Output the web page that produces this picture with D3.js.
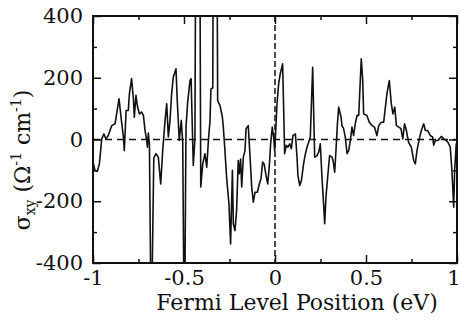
<!DOCTYPE html>
<html>
<head>
<meta charset="utf-8">
<script src="https://cdn.jsdelivr.net/npm/d3@7"></script>
<style>
  html, body { margin: 0; padding: 0; background: #fff; }
  svg { display: block; }
  svg text { font-family: "DejaVu Serif", "Liberation Serif", serif !important; fill: #111; }
</style>
</head>
<body>
<div id="chart"></div>
<script>
// ---- data ----
const energy = [
  -1.000, -0.989, -0.976, -0.965, -0.952, -0.940, -0.929, -0.916, -0.897, -0.879,
  -0.870, -0.857, -0.846, -0.833, -0.828, -0.818, -0.806, -0.800, -0.788, -0.778,
  -0.773, -0.764, -0.755, -0.745, -0.733, -0.723, -0.714, -0.705, -0.701, -0.696,
  -0.690, -0.680, -0.666, -0.654, -0.641, -0.628, -0.617, -0.604, -0.595, -0.586,
  -0.577, -0.568, -0.559, -0.544, -0.537, -0.526, -0.515, -0.507, -0.498, -0.489,
  -0.480, -0.467, -0.461, -0.449, -0.440, -0.430, -0.418, -0.408, -0.397, -0.385,
  -0.375, -0.366, -0.357, -0.352, -0.342, -0.334, -0.325, -0.315, -0.302, -0.289,
  -0.284, -0.275, -0.266, -0.253, -0.244, -0.234, -0.229, -0.220, -0.211, -0.202,
  -0.196, -0.189, -0.183, -0.174, -0.165, -0.159, -0.147, -0.137, -0.128, -0.119,
  -0.110, -0.097, -0.086, -0.077, -0.068, -0.060, -0.049, -0.040, -0.031, -0.024,
  -0.015, -0.007, -0.002, 0.004, 0.011, 0.020, 0.029, 0.042, 0.053, 0.062,
  0.071, 0.081, 0.090, 0.099, 0.112, 0.121, 0.126, 0.136, 0.145, 0.157,
  0.167, 0.176, 0.185, 0.194, 0.207, 0.218, 0.231, 0.240, 0.249, 0.258,
  0.267, 0.273, 0.280, 0.291, 0.300, 0.313, 0.319, 0.328, 0.335, 0.343,
  0.350, 0.363, 0.368, 0.377, 0.386, 0.396, 0.405, 0.414, 0.423, 0.432,
  0.441, 0.451, 0.460, 0.474, 0.482, 0.487, 0.505, 0.518, 0.533, 0.547,
  0.560, 0.570, 0.584, 0.597, 0.615, 0.628, 0.639, 0.648, 0.658, 0.667,
  0.680, 0.692, 0.702, 0.712, 0.722, 0.734, 0.749, 0.762, 0.771, 0.780,
  0.793, 0.804, 0.817, 0.826, 0.839, 0.853, 0.866, 0.872, 0.881, 0.896,
  0.903, 0.914, 0.927, 0.940, 0.950, 0.963, 0.972, 0.982, 0.987, 0.996,
  1.000
];
const sigmaXY = [
  -73, -100, -103, -79, 2, 18, 2, 13, 45, 51,
  83, 132, 72, 8, -36, 94, 94, 148, 197, 132,
  72, 143, 105, 83, 89, 78, 29, -3, -25, 21,
  -14, -650, -60, -46, -57, -144, -36, 62, 116, 8,
  62, 148, 202, 229, 126, -3, 62, -9, -700, 40,
  120, 191, 197, -84, 2, 1500, 1500, -154, -79, -46,
  -90, -3, 62, 164, 167, 1500, 1500, 126, 110, 72,
  40, -36, -122, -208, -338, -100, -273, -295, -230, -68,
  -111, -63, -154, -57, -36, 35, 45, -57, -154, -203,
  -171, -171, -144, -127, -73, -79, -117, -144, -84, -14,
  40, 5, -36, 30, 116, 180, 213, 245, -46, -19,
  -25, -14, -30, 13, 18, -57, -117, -149, -133, -79,
  -46, -25, -9, 8, 234, -57, -52, -41, -14, -122,
  -208, -273, -187, -111, -52, -57, -68, -106, -36, 51,
  105, 72, 45, 35, 8, -46, -36, -3, 40, 13,
  51, 78, 78, 261, 191, 83, 78, 56, 45, 40,
  13, 45, 56, 56, 148, 191, 116, 83, 105, 45,
  40, 35, 2, 51, 29, -9, -25, -68, -79, -36,
  2, 29, 51, 29, 29, 13, 8, -19, -3, -3,
  2, 10, 2, -3, -9, -25, -100, -219, -100, -14,
  -80
];
const xTicks = [-1, -0.5, 0, 0.5, 1];
const xMinorTicks = [-0.75, -0.25, 0.25, 0.75];
const yTicks = [-400, -200, 0, 200, 400];
const yMinorTicks = [-300, -100, 100, 300];
const xTitle = "Fermi Level Position (eV)";

// ---- layout ----
const W = 461, H = 324;
const m = { left: 93, right: 4, top: 16, bottom: 61 };
const iw = W - m.left - m.right, ih = H - m.top - m.bottom;
const FONT = "DejaVu Serif, Liberation Serif, serif";

const svg = d3.select("#chart").append("svg").attr("width", W).attr("height", H)
  .attr("font-family", FONT);
const g = svg.append("g").attr("transform", `translate(${m.left},${m.top})`);

const x = d3.scaleLinear().domain([-1, 1]).range([0, iw]);
const y = d3.scaleLinear().domain([-400, 400]).range([ih, 0]);

svg.append("defs").append("clipPath").attr("id", "clip")
  .append("rect").attr("x", 0).attr("y", 0).attr("width", iw).attr("height", ih);

// dashed reference lines
g.append("line").attr("x1", 0).attr("x2", iw).attr("y1", y(0)).attr("y2", y(0))
  .attr("stroke", "#111").attr("stroke-width", 1.5).attr("stroke-dasharray", "7,5");
g.append("line").attr("x1", x(0)).attr("x2", x(0)).attr("y1", 0).attr("y2", ih)
  .attr("stroke", "#111").attr("stroke-width", 1.5).attr("stroke-dasharray", "6,3");

// curve
const pts = energy.map((e, i) => [e, sigmaXY[i]]);
g.append("path").datum(pts)
  .attr("clip-path", "url(#clip)")
  .attr("fill", "none").attr("stroke", "#111").attr("stroke-width", 1.6)
  .attr("stroke-linejoin", "round")
  .attr("d", d3.line().x(d => x(d[0])).y(d => y(d[1])));

// axes: inward ticks on all four sides
function styleAxis(sel) {
  sel.attr("font-family", FONT);
  sel.select(".domain").remove();
  sel.selectAll(".tick line").attr("stroke", "#111").attr("stroke-width", 1.5);
}
const fs = 21;
const fmt = d => String(d).replace("\u2212", "-");
const gb = g.append("g").attr("transform", `translate(0,${ih})`)
  .call(d3.axisBottom(x).tickValues(xTicks).tickSize(-8).tickPadding(7).tickFormat(fmt));
styleAxis(gb);
gb.selectAll("text").attr("font-size", fs).attr("fill", "#111").style("font-family", FONT);
// keep the last label ("1") inside the picture, as in the reference
gb.selectAll(".tick").filter(d => d === 1).select("text").attr("text-anchor", "end").attr("x", 3);
const gbm = g.append("g").attr("transform", `translate(0,${ih})`)
  .call(d3.axisBottom(x).tickValues(xMinorTicks).tickSize(-4).tickFormat(""));
styleAxis(gbm);
const gt = g.append("g").call(d3.axisTop(x).tickValues(xTicks).tickSize(-8).tickFormat(""));
styleAxis(gt);
const gtm = g.append("g").call(d3.axisTop(x).tickValues(xMinorTicks).tickSize(-4).tickFormat(""));
styleAxis(gtm);
const gl = g.append("g").call(d3.axisLeft(y).tickValues(yTicks).tickSize(-8).tickPadding(10).tickFormat(fmt));
styleAxis(gl);
gl.selectAll("text").attr("font-size", fs).attr("fill", "#111").style("font-family", FONT);
const glm = g.append("g").call(d3.axisLeft(y).tickValues(yMinorTicks).tickSize(-4).tickFormat(""));
styleAxis(glm);
const gr = g.append("g").attr("transform", `translate(${iw},0)`)
  .call(d3.axisRight(y).tickValues(yTicks).tickSize(-8).tickFormat(""));
styleAxis(gr);
const grm = g.append("g").attr("transform", `translate(${iw},0)`)
  .call(d3.axisRight(y).tickValues(yMinorTicks).tickSize(-4).tickFormat(""));
styleAxis(grm);

// frame
g.append("rect").attr("x", 0).attr("y", 0).attr("width", iw).attr("height", ih)
  .attr("fill", "none").attr("stroke", "#111").attr("stroke-width", 2);

// x title
svg.append("text").attr("x", 297).attr("y", 310).attr("text-anchor", "middle")
  .attr("font-size", 22).style("font-family", FONT).text(xTitle);

// y title: σxy (Ω-1 cm-1)
const yt = svg.append("text").attr("text-anchor", "middle").style("font-family", FONT)
  .attr("transform", `translate(30,160) rotate(-90)`).attr("font-size", 22);
yt.append("tspan").text("σ");
yt.append("tspan").attr("font-size", 14).attr("dy", 5).text("xy");
yt.append("tspan").attr("dy", -5).text(" (Ω");
yt.append("tspan").attr("font-size", 14).attr("dy", -9).text("-1");
yt.append("tspan").attr("dy", 9).text(" cm");
yt.append("tspan").attr("font-size", 14).attr("dy", -9).text("-1");
yt.append("tspan").attr("dy", 9).text(")");
</script>
</body>
</html>
